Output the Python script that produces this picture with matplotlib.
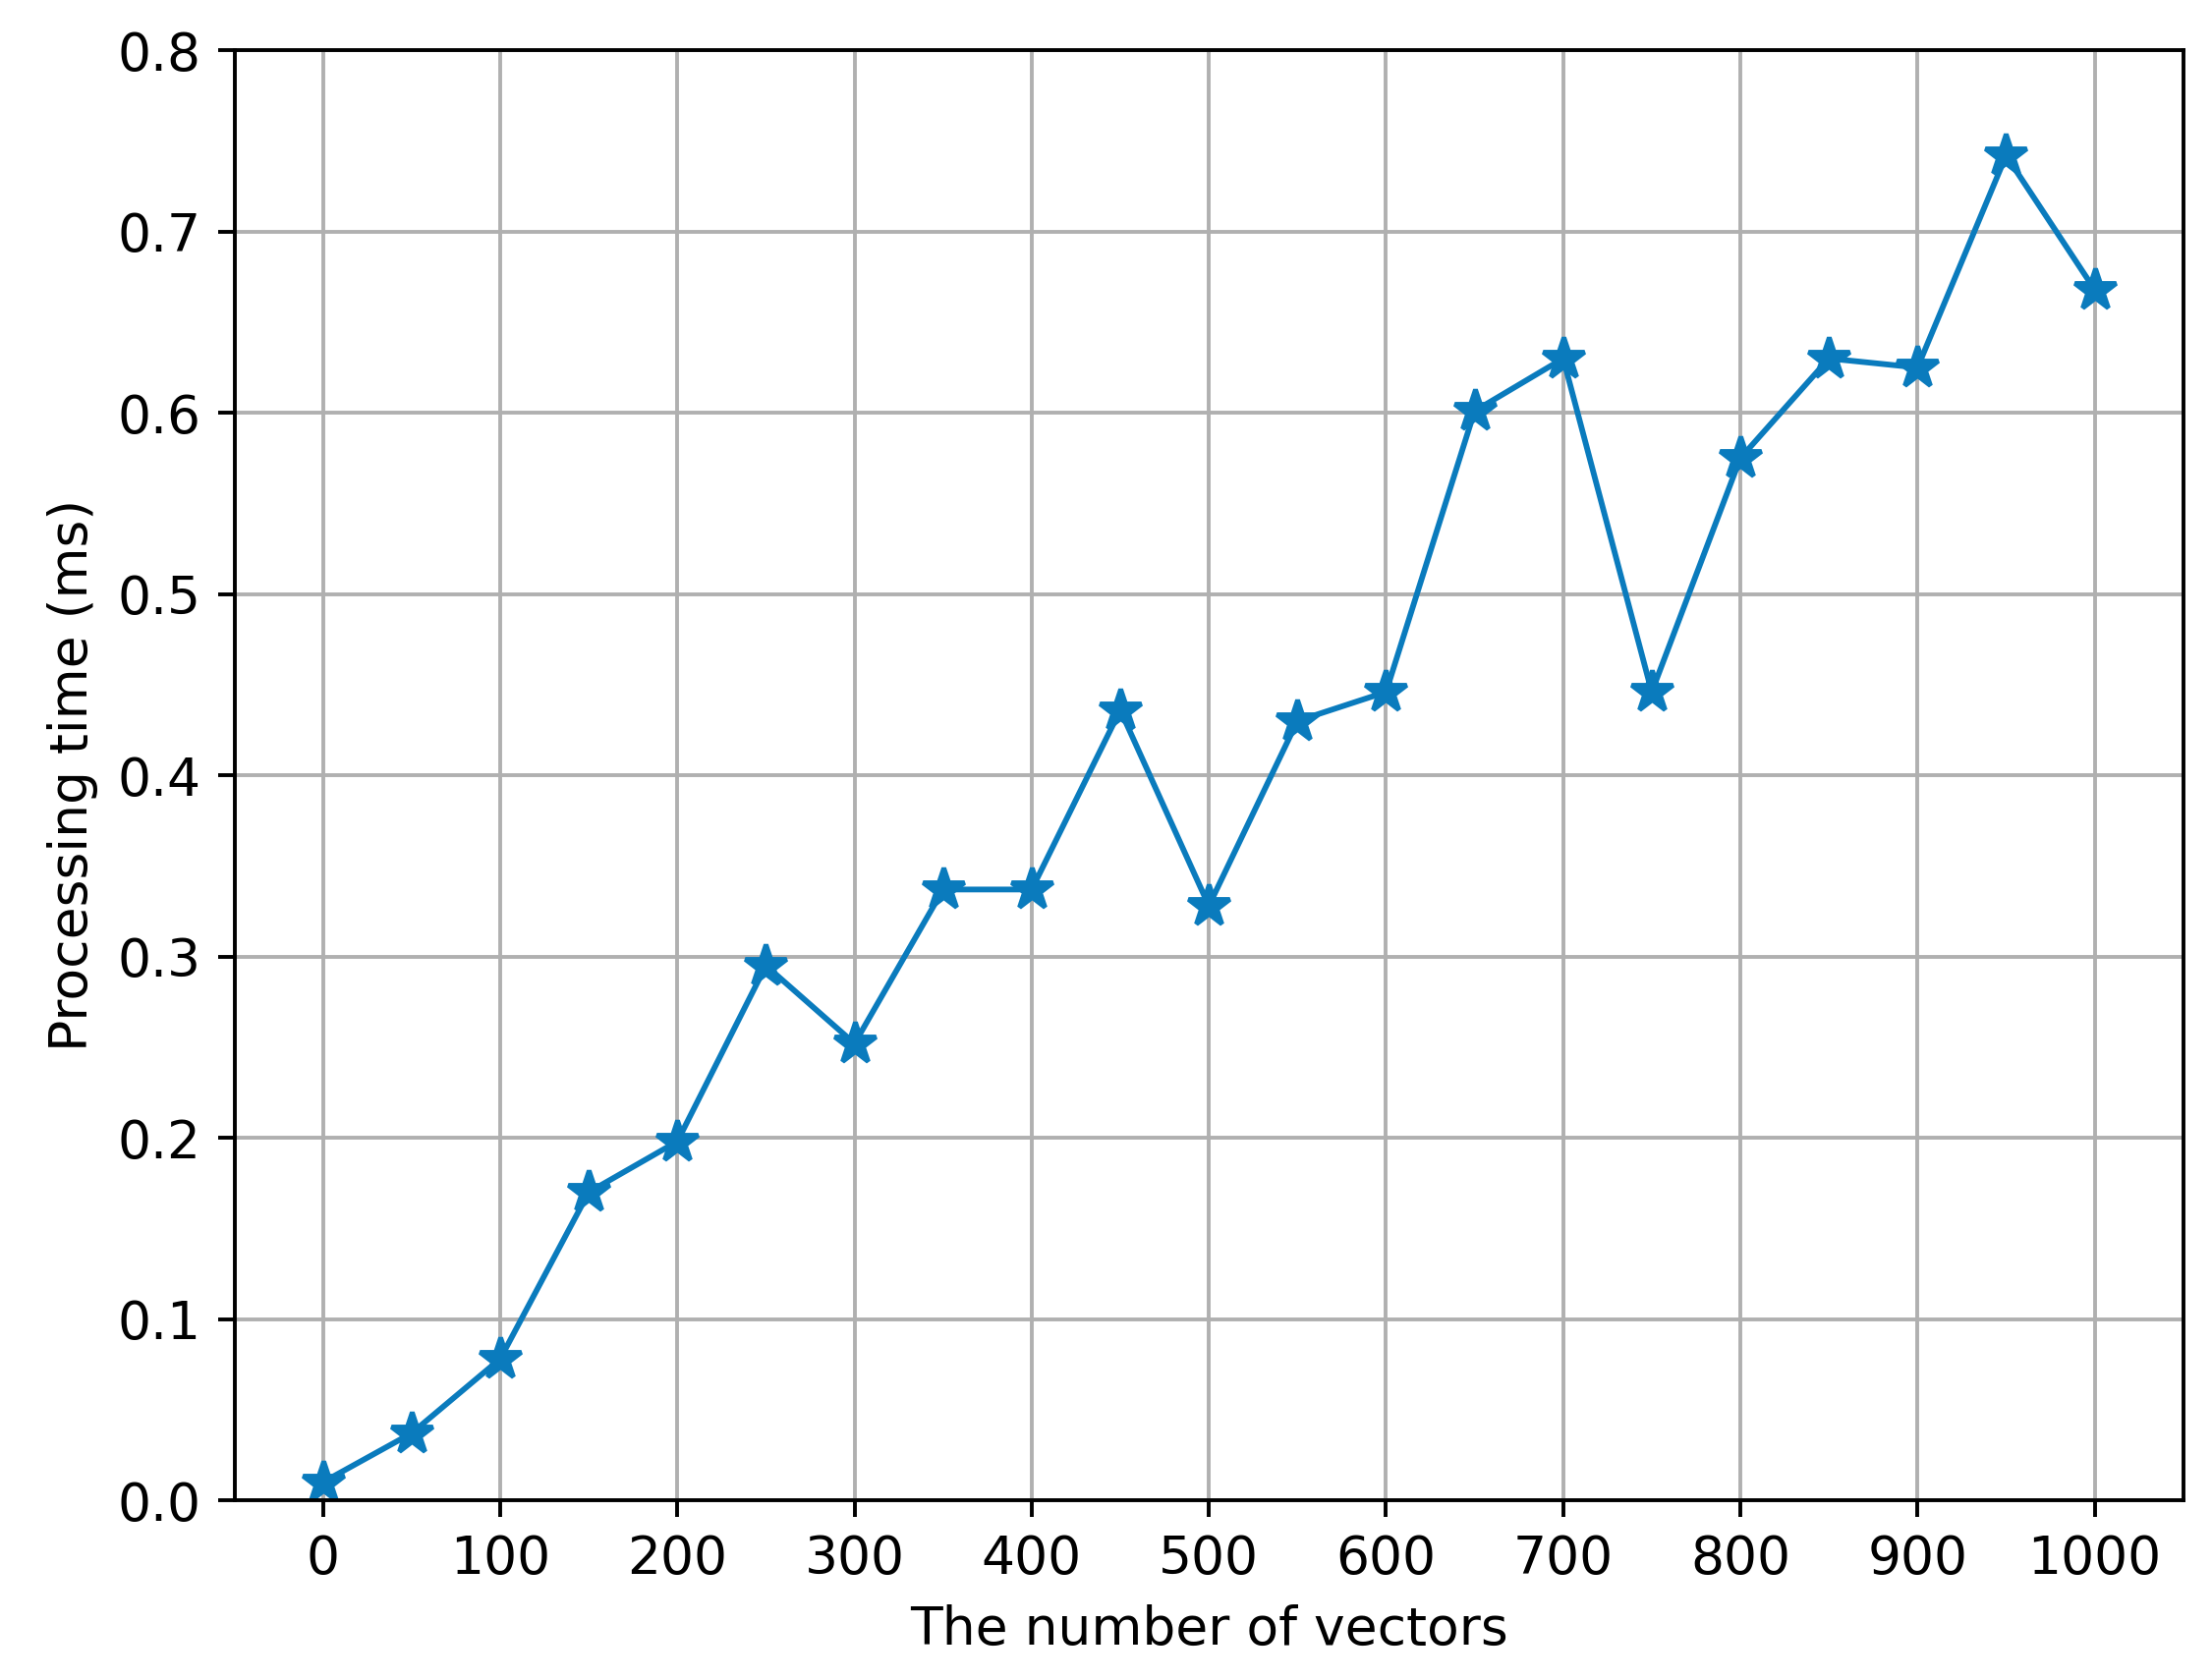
import matplotlib
matplotlib.use("Agg")
import matplotlib.pyplot as plt

# number of vectors vs processing time
num_vectors = [0, 50, 100, 150, 200, 250, 300, 350, 400, 450, 500,
               550, 600, 650, 700, 750, 800, 850, 900, 950, 1000]
proc_time = [0.010, 0.037, 0.078, 0.170, 0.198, 0.295, 0.252, 0.337, 0.337, 0.436, 0.328,
             0.430, 0.446, 0.601, 0.630, 0.446, 0.575, 0.630, 0.625, 0.742, 0.668]
x_ticks = list(range(0, 1001, 100))

fig = plt.figure(figsize=(2251 / 350, 1710 / 350), dpi=350)
ax = fig.add_axes([0.106, 0.107, 0.881, 0.863])
ax.plot(num_vectors, proc_time, color='#0a7bbd', marker='*', markersize=9, linewidth=1.2)
ax.set_xticks(x_ticks)
ax.set_ylim(0, 0.8)
ax.set_xlim(-50, 1050)
ax.grid(True, color='#b0b0b0', linewidth=0.8)
ax.set_xlabel('The number of vectors', fontsize=11)
ax.set_ylabel('Processing time (ms)', fontsize=11)
ax.tick_params(labelsize=11)

fig.savefig('out.png', dpi=350)
